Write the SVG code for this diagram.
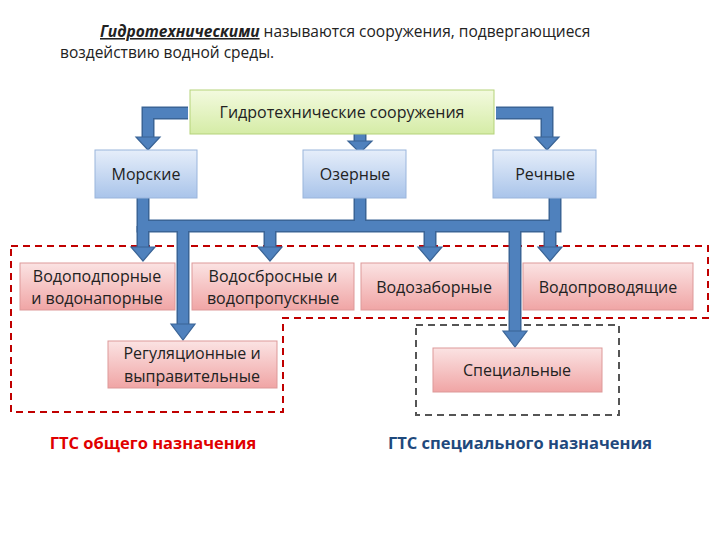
<svg xmlns="http://www.w3.org/2000/svg" width="720" height="540" viewBox="0 0 720 540">
<defs>
<linearGradient id="gG" x1="0" y1="0" x2="0" y2="1"><stop offset="0" stop-color="#f3fadf"/><stop offset="1" stop-color="#d5eca6"/></linearGradient>
<linearGradient id="bG" x1="0" y1="0" x2="0" y2="1"><stop offset="0" stop-color="#e6eefa"/><stop offset="1" stop-color="#a9c4ea"/></linearGradient>
<linearGradient id="rG" x1="0" y1="0" x2="0" y2="1"><stop offset="0" stop-color="#fbe3e3"/><stop offset="1" stop-color="#f0a5a5"/></linearGradient>
<style>
text{font-family:"Open Sans","Noto Sans","DejaVu Sans",sans-serif;font-size:16px;fill:#222;text-anchor:middle}
.g{fill:url(#gG);stroke:#b5d37a;stroke-width:1}
.b{fill:url(#bG);stroke:#9ab5dc;stroke-width:1}
.r{fill:url(#rG);stroke:#d99;stroke-width:1}
.o{fill:none;stroke:#3a6496;stroke-width:13;stroke-linejoin:miter}
.f{fill:none;stroke:#4f81bd;stroke-width:10;stroke-linejoin:miter}
.h{fill:#4f81bd;stroke:#3a6496;stroke-width:1.2}
</style>
</defs>
<rect width="720" height="540" fill="#fff"/>
<text x="100" y="37" style="text-anchor:start;font-size:15.5px"><tspan font-weight="bold" font-style="italic" text-decoration="underline">Гидротехническими</tspan> называются сооружения, подвергающиеся</text>
<text x="60" y="58" style="text-anchor:start;font-size:15.5px">воздействию водной среды.</text>

<path d="M11,246 H708 V318 H283 V412 H11 Z" fill="none" stroke="#c00000" stroke-width="2" stroke-dasharray="7,5"/>
<rect x="416" y="325" width="203" height="90" fill="none" stroke="#555" stroke-width="2" stroke-dasharray="7,5"/>

<g id="connectors">
<path class="o" d="M188,113 H148 V138"/>
<path class="o" d="M360,134 V142"/>
<path class="o" d="M496,113 H547 V138"/>
<path class="o" d="M143,198 V226 H555 V198"/>
<path class="o" d="M360,198 V226"/>
<path class="o" d="M143,226 V248 M270,226 V248 M430,226 V248 M550,226 V248"/>
<path class="o" d="M183,226 V325 M515,226 V332"/>
<path class="f" d="M188,113 H148 V138"/>
<path class="f" d="M360,134 V142"/>
<path class="f" d="M496,113 H547 V138"/>
<path class="f" d="M143,198 V226 H555 V198"/>
<path class="f" d="M360,198 V226"/>
<path class="f" d="M143,226 V248 M270,226 V248 M430,226 V248 M550,226 V248"/>
<path class="f" d="M183,226 V325 M515,226 V332"/>
<polygon class="h" points="136,137 160,137 148,150"/>
<polygon class="h" points="348,141 372,141 360,153"/>
<polygon class="h" points="535,137 559,137 547,150"/>
<polygon class="h" points="131,247 155,247 143,261"/>
<polygon class="h" points="258,247 282,247 270,261"/>
<polygon class="h" points="418,247 442,247 430,261"/>
<polygon class="h" points="538,247 562,247 550,261"/>
<polygon class="h" points="171,324 195,324 183,340"/>
<polygon class="h" points="503,331 527,331 515,347"/>
</g>

<g id="n-root"><rect class="g" x="190" y="90" width="304" height="44"/><text x="342" y="118">Гидротехнические сооружения</text></g>
<g id="n-morskie"><rect class="b" x="95" y="150" width="102" height="48"/><text x="146" y="180">Морские</text></g>
<g id="n-ozernye"><rect class="b" x="303" y="150" width="103" height="48"/><text x="355" y="180">Озерные</text></g>
<g id="n-rechnye"><rect class="b" x="493" y="150" width="103" height="48"/><text x="545" y="180">Речные</text></g>
<g id="n-podpor"><rect class="r" x="20" y="263" width="155" height="47"/><text x="97" y="282">Водоподпорные</text><text x="97" y="304">и водонапорные</text></g>
<g id="n-sbros"><rect class="r" x="192" y="263" width="162" height="47"/><text x="273" y="282">Водосбросные и</text><text x="273" y="304">водопропускные</text></g>
<g id="n-zabor"><rect class="r" x="361" y="263" width="147" height="47"/><text x="434" y="293">Водозаборные</text></g>
<g id="n-provod"><rect class="r" x="523" y="263" width="170" height="47"/><text x="608" y="293">Водопроводящие</text></g>
<g id="n-regul"><rect class="r" x="108" y="341" width="169" height="47"/><text x="192" y="359">Регуляционные и</text><text x="192" y="382">выправительные</text></g>
<g id="n-spec"><rect class="r" x="433" y="348" width="169" height="44"/><text x="517" y="376">Специальные</text></g>

<text x="153" y="449" style="fill:#e00000;font-weight:bold;font-size:16.5px">ГТС общего назначения</text>
<text x="520" y="449" style="fill:#1f497d;font-weight:bold;font-size:16.5px">ГТС специального назначения</text>
</svg>
